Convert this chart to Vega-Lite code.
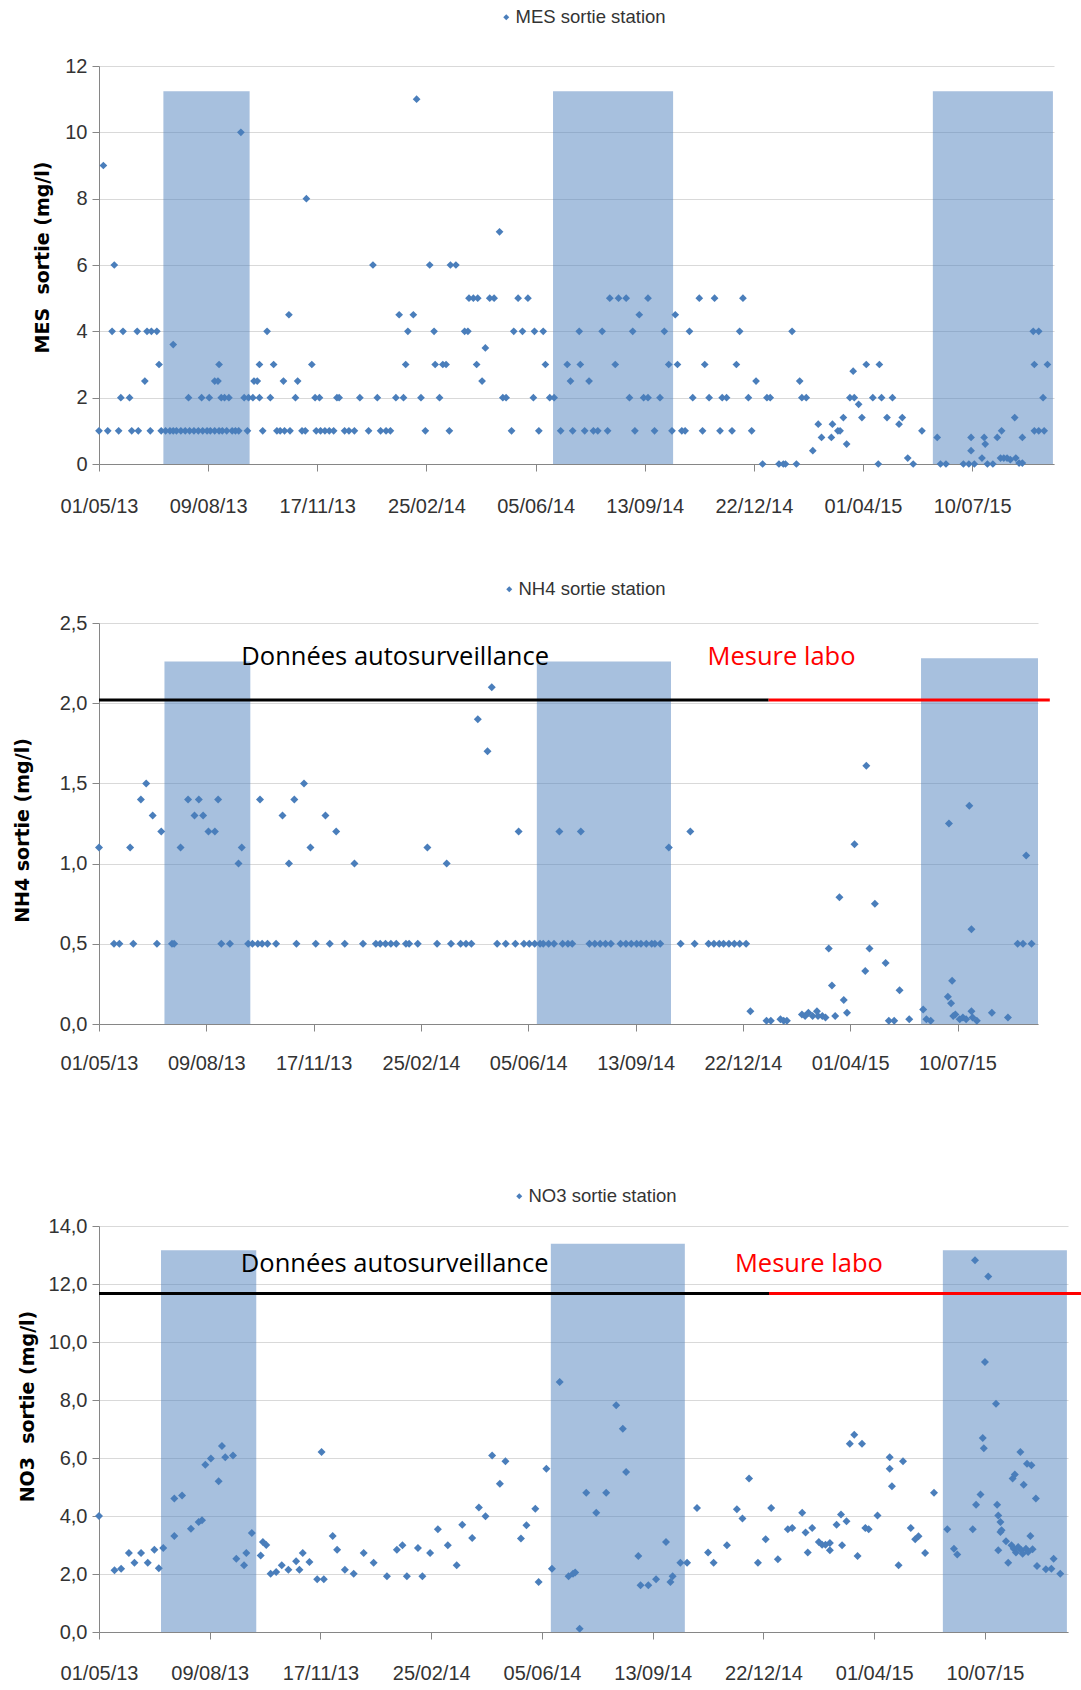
{
  "$schema": "https://vega.github.io/schema/vega-lite/v6.json",
  "background": "white",
  "padding": {"left": 13, "top": 8, "right": 0, "bottom": 0},
  "datasets": {
    "zones_mes": [{"debut":59,"fin":138,"haut":11.24},{"debut":416,"fin":526,"haut":11.24},{"debut":764,"fin":874,"haut":11.24}],
    "zones_nh4": [{"debut":61,"fin":141,"haut":2.26},{"debut":408,"fin":533,"haut":2.26},{"debut":766,"fin":875,"haut":2.28}],
    "zones_no3": [{"debut":56,"fin":142,"haut":13.16},{"debut":408,"fin":529,"haut":13.39},{"debut":762,"fin":874,"haut":13.16}],
    "annot_nh4": [
      {"source":"auto","debut":0,"fin":624,"niveau":2.02,"libelle":"Données autosurveillance","x_texte":276,"y_texte":2.29},
      {"source":"labo","debut":624,"fin":886,"niveau":2.02,"libelle":"Mesure labo","x_texte":636,"y_texte":2.29}
    ],
    "annot_no3": [
      {"source":"auto","debut":0,"fin":605,"niveau":11.67,"libelle":"Données autosurveillance","x_texte":267,"y_texte":12.7},
      {"source":"labo","debut":605,"fin":890,"niveau":11.67,"libelle":"Mesure labo","x_texte":641,"y_texte":12.7}
    ],
    "mes": [
      {"jour":4,"valeur":9},{"jour":14,"valeur":6},{"jour":130,"valeur":10},{"jour":190,"valeur":8},{"jour":251,"valeur":6},{"jour":291,"valeur":11},{"jour":303,"valeur":6},{"jour":322,"valeur":6},{"jour":327,"valeur":6},{"jour":367,"valeur":7},
      {"jour":339,"valeur":5},{"jour":343,"valeur":5},{"jour":347,"valeur":5},{"jour":358,"valeur":5},{"jour":362,"valeur":5},{"jour":384,"valeur":5},{"jour":393,"valeur":5},{"jour":468,"valeur":5},{"jour":476,"valeur":5},{"jour":483,"valeur":5},{"jour":503,"valeur":5},{"jour":550,"valeur":5},{"jour":564,"valeur":5},{"jour":590,"valeur":5},
      {"jour":174,"valeur":4.5},{"jour":275,"valeur":4.5},{"jour":288,"valeur":4.5},{"jour":495,"valeur":4.5},{"jour":528,"valeur":4.5},
      {"jour":12,"valeur":4},{"jour":22,"valeur":4},{"jour":35,"valeur":4},{"jour":44,"valeur":4},{"jour":48,"valeur":4},{"jour":53,"valeur":4},{"jour":154,"valeur":4},{"jour":283,"valeur":4},{"jour":307,"valeur":4},{"jour":335,"valeur":4},{"jour":338,"valeur":4},{"jour":380,"valeur":4},{"jour":388,"valeur":4},{"jour":399,"valeur":4},{"jour":407,"valeur":4},{"jour":440,"valeur":4},{"jour":461,"valeur":4},{"jour":489,"valeur":4},{"jour":518,"valeur":4},{"jour":541,"valeur":4},{"jour":587,"valeur":4},{"jour":635,"valeur":4},{"jour":856,"valeur":4},{"jour":861,"valeur":4},
      {"jour":68,"valeur":3.6},{"jour":354,"valeur":3.5},
      {"jour":55,"valeur":3},{"jour":110,"valeur":3},{"jour":147,"valeur":3},{"jour":160,"valeur":3},{"jour":195,"valeur":3},{"jour":281,"valeur":3},{"jour":308,"valeur":3},{"jour":315,"valeur":3},{"jour":318,"valeur":3},{"jour":346,"valeur":3},{"jour":409,"valeur":3},{"jour":429,"valeur":3},{"jour":441,"valeur":3},{"jour":473,"valeur":3},{"jour":522,"valeur":3},{"jour":530,"valeur":3},{"jour":555,"valeur":3},{"jour":584,"valeur":3},{"jour":703,"valeur":3},{"jour":715,"valeur":3},{"jour":857,"valeur":3},{"jour":869,"valeur":3},
      {"jour":691,"valeur":2.8},
      {"jour":42,"valeur":2.5},{"jour":106,"valeur":2.5},{"jour":109,"valeur":2.5},{"jour":142,"valeur":2.5},{"jour":145,"valeur":2.5},{"jour":169,"valeur":2.5},{"jour":182,"valeur":2.5},{"jour":351,"valeur":2.5},{"jour":432,"valeur":2.5},{"jour":449,"valeur":2.5},{"jour":602,"valeur":2.5},{"jour":642,"valeur":2.5},
      {"jour":20,"valeur":2},{"jour":28,"valeur":2},{"jour":82,"valeur":2},{"jour":94,"valeur":2},{"jour":101,"valeur":2},{"jour":112,"valeur":2},{"jour":115,"valeur":2},{"jour":119,"valeur":2},{"jour":133,"valeur":2},{"jour":137,"valeur":2},{"jour":141,"valeur":2},{"jour":147,"valeur":2},{"jour":157,"valeur":2},{"jour":180,"valeur":2},{"jour":198,"valeur":2},{"jour":202,"valeur":2},{"jour":218,"valeur":2},{"jour":220,"valeur":2},{"jour":239,"valeur":2},{"jour":255,"valeur":2},{"jour":272,"valeur":2},{"jour":279,"valeur":2},{"jour":295,"valeur":2},{"jour":312,"valeur":2},{"jour":370,"valeur":2},{"jour":373,"valeur":2},{"jour":398,"valeur":2},{"jour":413,"valeur":2},{"jour":417,"valeur":2},{"jour":486,"valeur":2},{"jour":499,"valeur":2},{"jour":503,"valeur":2},{"jour":514,"valeur":2},{"jour":544,"valeur":2},{"jour":559,"valeur":2},{"jour":571,"valeur":2},{"jour":575,"valeur":2},{"jour":595,"valeur":2},{"jour":612,"valeur":2},{"jour":615,"valeur":2},{"jour":644,"valeur":2},{"jour":648,"valeur":2},{"jour":688,"valeur":2},{"jour":692,"valeur":2},{"jour":709,"valeur":2},{"jour":717,"valeur":2},{"jour":727,"valeur":2},{"jour":865,"valeur":2},
      {"jour":696,"valeur":1.8},
      {"jour":682,"valeur":1.4},{"jour":699,"valeur":1.4},{"jour":722,"valeur":1.4},{"jour":736,"valeur":1.4},{"jour":839,"valeur":1.4},
      {"jour":659,"valeur":1.2},{"jour":672,"valeur":1.2},{"jour":733,"valeur":1.2},
      {"jour":0,"valeur":1},{"jour":8,"valeur":1},{"jour":18,"valeur":1},{"jour":30,"valeur":1},{"jour":36,"valeur":1},{"jour":47,"valeur":1},{"jour":57,"valeur":1},{"jour":61,"valeur":1},{"jour":65,"valeur":1},{"jour":68,"valeur":1},{"jour":71,"valeur":1},{"jour":75,"valeur":1},{"jour":79,"valeur":1},{"jour":83,"valeur":1},{"jour":87,"valeur":1},{"jour":91,"valeur":1},{"jour":95,"valeur":1},{"jour":99,"valeur":1},{"jour":102,"valeur":1},{"jour":106,"valeur":1},{"jour":110,"valeur":1},{"jour":113,"valeur":1},{"jour":117,"valeur":1},{"jour":122,"valeur":1},{"jour":125,"valeur":1},{"jour":128,"valeur":1},{"jour":136,"valeur":1},{"jour":150,"valeur":1},{"jour":163,"valeur":1},{"jour":166,"valeur":1},{"jour":170,"valeur":1},{"jour":175,"valeur":1},{"jour":186,"valeur":1},{"jour":189,"valeur":1},{"jour":199,"valeur":1},{"jour":203,"valeur":1},{"jour":207,"valeur":1},{"jour":211,"valeur":1},{"jour":215,"valeur":1},{"jour":225,"valeur":1},{"jour":229,"valeur":1},{"jour":234,"valeur":1},{"jour":247,"valeur":1},{"jour":258,"valeur":1},{"jour":263,"valeur":1},{"jour":267,"valeur":1},{"jour":299,"valeur":1},{"jour":321,"valeur":1},{"jour":378,"valeur":1},{"jour":403,"valeur":1},{"jour":423,"valeur":1},{"jour":434,"valeur":1},{"jour":445,"valeur":1},{"jour":453,"valeur":1},{"jour":457,"valeur":1},{"jour":466,"valeur":1},{"jour":491,"valeur":1},{"jour":509,"valeur":1},{"jour":525,"valeur":1},{"jour":534,"valeur":1},{"jour":537,"valeur":1},{"jour":553,"valeur":1},{"jour":569,"valeur":1},{"jour":580,"valeur":1},{"jour":598,"valeur":1},{"jour":677,"valeur":1},{"jour":679,"valeur":1},{"jour":754,"valeur":1},{"jour":827,"valeur":1},{"jour":857,"valeur":1},{"jour":861,"valeur":1},{"jour":866,"valeur":1},
      {"jour":662,"valeur":0.8},{"jour":671,"valeur":0.8},{"jour":768,"valeur":0.8},{"jour":799,"valeur":0.8},{"jour":811,"valeur":0.8},{"jour":823,"valeur":0.8},{"jour":846,"valeur":0.8},
      {"jour":685,"valeur":0.6},{"jour":812,"valeur":0.6},{"jour":654,"valeur":0.4},{"jour":799,"valeur":0.4},
      {"jour":741,"valeur":0.18},{"jour":809,"valeur":0.18},{"jour":826,"valeur":0.18},{"jour":829,"valeur":0.18},{"jour":832,"valeur":0.18},{"jour":835,"valeur":0.13},{"jour":840,"valeur":0.18},
      {"jour":608,"valeur":0},{"jour":623,"valeur":0},{"jour":627,"valeur":0},{"jour":629,"valeur":0},{"jour":639,"valeur":0},{"jour":714,"valeur":0},{"jour":746,"valeur":0},{"jour":771,"valeur":0},{"jour":776,"valeur":0},{"jour":792,"valeur":0},{"jour":797,"valeur":0},{"jour":802,"valeur":0},{"jour":814,"valeur":0},{"jour":819,"valeur":0},{"jour":843,"valeur":0.03},{"jour":846,"valeur":0.03}
    ],
    "nh4": [
      {"jour":0,"valeur":1.1},{"jour":29,"valeur":1.1},{"jour":76,"valeur":1.1},{"jour":133,"valeur":1.1},{"jour":197,"valeur":1.1},{"jour":306,"valeur":1.1},{"jour":531,"valeur":1.1},
      {"jour":39,"valeur":1.4},{"jour":83,"valeur":1.4},{"jour":93,"valeur":1.4},{"jour":111,"valeur":1.4},{"jour":150,"valeur":1.4},{"jour":182,"valeur":1.4},
      {"jour":44,"valeur":1.5},{"jour":191,"valeur":1.5},
      {"jour":50,"valeur":1.3},{"jour":89,"valeur":1.3},{"jour":97,"valeur":1.3},{"jour":171,"valeur":1.3},{"jour":211,"valeur":1.3},
      {"jour":58,"valeur":1.2},{"jour":102,"valeur":1.2},{"jour":108,"valeur":1.2},{"jour":221,"valeur":1.2},{"jour":391,"valeur":1.2},{"jour":429,"valeur":1.2},{"jour":449,"valeur":1.2},{"jour":551,"valeur":1.2},
      {"jour":130,"valeur":1.0},{"jour":177,"valeur":1.0},{"jour":238,"valeur":1.0},{"jour":324,"valeur":1.0},
      {"jour":353,"valeur":1.9},{"jour":362,"valeur":1.7},{"jour":366,"valeur":2.1},
      {"jour":14,"valeur":0.5},{"jour":19,"valeur":0.5},{"jour":32,"valeur":0.5},{"jour":54,"valeur":0.5},{"jour":68,"valeur":0.5},{"jour":70,"valeur":0.5},{"jour":114,"valeur":0.5},{"jour":122,"valeur":0.5},{"jour":139,"valeur":0.5},{"jour":143,"valeur":0.5},{"jour":148,"valeur":0.5},{"jour":152,"valeur":0.5},{"jour":157,"valeur":0.5},{"jour":165,"valeur":0.5},{"jour":184,"valeur":0.5},{"jour":202,"valeur":0.5},{"jour":215,"valeur":0.5},{"jour":229,"valeur":0.5},{"jour":246,"valeur":0.5},{"jour":258,"valeur":0.5},{"jour":262,"valeur":0.5},{"jour":267,"valeur":0.5},{"jour":272,"valeur":0.5},{"jour":277,"valeur":0.5},{"jour":286,"valeur":0.5},{"jour":289,"valeur":0.5},{"jour":297,"valeur":0.5},{"jour":315,"valeur":0.5},{"jour":328,"valeur":0.5},{"jour":337,"valeur":0.5},{"jour":342,"valeur":0.5},{"jour":347,"valeur":0.5},{"jour":371,"valeur":0.5},{"jour":379,"valeur":0.5},{"jour":388,"valeur":0.5},{"jour":396,"valeur":0.5},{"jour":401,"valeur":0.5},{"jour":406,"valeur":0.5},{"jour":411,"valeur":0.5},{"jour":414,"valeur":0.5},{"jour":419,"valeur":0.5},{"jour":424,"valeur":0.5},{"jour":432,"valeur":0.5},{"jour":437,"valeur":0.5},{"jour":441,"valeur":0.5},{"jour":457,"valeur":0.5},{"jour":462,"valeur":0.5},{"jour":467,"valeur":0.5},{"jour":472,"valeur":0.5},{"jour":477,"valeur":0.5},{"jour":486,"valeur":0.5},{"jour":491,"valeur":0.5},{"jour":496,"valeur":0.5},{"jour":501,"valeur":0.5},{"jour":505,"valeur":0.5},{"jour":510,"valeur":0.5},{"jour":515,"valeur":0.5},{"jour":518,"valeur":0.5},{"jour":523,"valeur":0.5},{"jour":542,"valeur":0.5},{"jour":555,"valeur":0.5},{"jour":568,"valeur":0.5},{"jour":573,"valeur":0.5},{"jour":578,"valeur":0.5},{"jour":582,"valeur":0.5},{"jour":587,"valeur":0.5},{"jour":592,"valeur":0.5},{"jour":597,"valeur":0.5},{"jour":603,"valeur":0.5},{"jour":856,"valeur":0.5},{"jour":861,"valeur":0.5},{"jour":869,"valeur":0.5},
      {"jour":607,"valeur":0.08},{"jour":622,"valeur":0.02},{"jour":626,"valeur":0.02},{"jour":635,"valeur":0.03},{"jour":638,"valeur":0.02},{"jour":641,"valeur":0.02},{"jour":655,"valeur":0.06},{"jour":658,"valeur":0.05},{"jour":661,"valeur":0.07},{"jour":665,"valeur":0.05},{"jour":669,"valeur":0.08},{"jour":670,"valeur":0.05},{"jour":674,"valeur":0.05},{"jour":677,"valeur":0.04},{"jour":680,"valeur":0.47},{"jour":683,"valeur":0.24},{"jour":686,"valeur":0.05},{"jour":690,"valeur":0.79},{"jour":694,"valeur":0.15},{"jour":697,"valeur":0.07},{"jour":704,"valeur":1.12},{"jour":714,"valeur":0.33},{"jour":715,"valeur":1.61},{"jour":718,"valeur":0.47},{"jour":723,"valeur":0.75},{"jour":733,"valeur":0.38},{"jour":736,"valeur":0.02},{"jour":741,"valeur":0.02},{"jour":746,"valeur":0.21},{"jour":755,"valeur":0.03},{"jour":768,"valeur":0.09},{"jour":771,"valeur":0.03},{"jour":775,"valeur":0.02},{"jour":791,"valeur":0.17},{"jour":792,"valeur":1.25},{"jour":794,"valeur":0.13},{"jour":795,"valeur":0.27},{"jour":796,"valeur":0.05},{"jour":798,"valeur":0.06},{"jour":802,"valeur":0.03},{"jour":805,"valeur":0.04},{"jour":808,"valeur":0.03},{"jour":811,"valeur":1.36},{"jour":813,"valeur":0.59},{"jour":813,"valeur":0.08},{"jour":814,"valeur":0.04},{"jour":818,"valeur":0.02},{"jour":832,"valeur":0.07},{"jour":847,"valeur":0.04},{"jour":864,"valeur":1.05}
    ],
    "no3": [
      {"jour":0,"valeur":4.0},{"jour":14,"valeur":2.13},{"jour":20,"valeur":2.18},{"jour":27,"valeur":2.72},{"jour":32,"valeur":2.39},{"jour":38,"valeur":2.72},{"jour":44,"valeur":2.39},{"jour":50,"valeur":2.84},{"jour":54,"valeur":2.2},{"jour":58,"valeur":2.9},{"jour":68,"valeur":3.31},{"jour":68,"valeur":4.6},{"jour":75,"valeur":4.71},{"jour":83,"valeur":3.56},{"jour":90,"valeur":3.79},{"jour":93,"valeur":3.85},{"jour":96,"valeur":5.77},{"jour":101,"valeur":5.98},{"jour":108,"valeur":5.2},{"jour":111,"valeur":6.41},{"jour":114,"valeur":6.03},{"jour":121,"valeur":6.09},{"jour":124,"valeur":2.53},{"jour":131,"valeur":2.3},{"jour":133,"valeur":2.72},{"jour":138,"valeur":3.41},{"jour":146,"valeur":2.64},{"jour":148,"valeur":3.1},{"jour":151,"valeur":3.0},{"jour":155,"valeur":2.01},{"jour":160,"valeur":2.07},{"jour":165,"valeur":2.3},{"jour":171,"valeur":2.15},{"jour":178,"valeur":2.44},{"jour":181,"valeur":2.15},{"jour":184,"valeur":2.72},{"jour":190,"valeur":2.41},{"jour":197,"valeur":1.82},{"jour":203,"valeur":1.82},{"jour":201,"valeur":6.21},{"jour":211,"valeur":3.31},{"jour":215,"valeur":2.84},{"jour":222,"valeur":2.15},{"jour":230,"valeur":2.01},{"jour":239,"valeur":2.72},{"jour":248,"valeur":2.39},{"jour":260,"valeur":1.92},{"jour":269,"valeur":2.84},{"jour":274,"valeur":2.99},{"jour":278,"valeur":1.92},{"jour":288,"valeur":2.9},{"jour":292,"valeur":1.92},{"jour":299,"valeur":2.72},{"jour":306,"valeur":3.54},{"jour":315,"valeur":2.99},{"jour":323,"valeur":2.3},{"jour":328,"valeur":3.7},{"jour":337,"valeur":3.24},{"jour":343,"valeur":4.29},{"jour":349,"valeur":3.99},{"jour":355,"valeur":6.09},{"jour":362,"valeur":5.11},{"jour":367,"valeur":5.89},{"jour":381,"valeur":3.22},{"jour":386,"valeur":3.68},{"jour":394,"valeur":4.25},{"jour":397,"valeur":1.72},
      {"jour":404,"valeur":5.63},{"jour":409,"valeur":2.18},{"jour":416,"valeur":8.62},{"jour":424,"valeur":1.92},{"jour":428,"valeur":2.01},{"jour":430,"valeur":2.05},{"jour":434,"valeur":0.11},{"jour":440,"valeur":4.8},{"jour":449,"valeur":4.11},{"jour":458,"valeur":4.8},{"jour":467,"valeur":7.82},{"jour":473,"valeur":7.01},{"jour":476,"valeur":5.52},{"jour":487,"valeur":2.62},{"jour":489,"valeur":1.61},{"jour":496,"valeur":1.61},{"jour":503,"valeur":1.82},{"jour":512,"valeur":3.1},{"jour":516,"valeur":1.72},{"jour":518,"valeur":1.92},{"jour":525,"valeur":2.39},{"jour":531,"valeur":2.39},{"jour":540,"valeur":4.28},{"jour":550,"valeur":2.74},{"jour":555,"valeur":2.39},{"jour":567,"valeur":2.99},{"jour":576,"valeur":4.23},{"jour":581,"valeur":3.91},{"jour":587,"valeur":5.29},{"jour":595,"valeur":2.39},{"jour":602,"valeur":3.2},{"jour":607,"valeur":4.28},{"jour":613,"valeur":2.51},{"jour":622,"valeur":3.54},{"jour":626,"valeur":3.59},{"jour":635,"valeur":4.11},{"jour":638,"valeur":3.43},{"jour":640,"valeur":2.74},{"jour":644,"valeur":3.59},{"jour":650,"valeur":3.1},{"jour":653,"valeur":3.01},{"jour":656,"valeur":3.01},{"jour":660,"valeur":3.07},{"jour":660,"valeur":2.82},{"jour":666,"valeur":3.7},{"jour":670,"valeur":4.05},{"jour":671,"valeur":2.99},{"jour":675,"valeur":3.82},{"jour":678,"valeur":6.49},{"jour":682,"valeur":6.8},{"jour":685,"valeur":2.62},{"jour":689,"valeur":6.49},{"jour":692,"valeur":3.59},{"jour":695,"valeur":3.54},{"jour":703,"valeur":4.02},{"jour":714,"valeur":6.03},{"jour":714,"valeur":5.63},{"jour":716,"valeur":5.03},{"jour":722,"valeur":2.3},{"jour":726,"valeur":5.89},{"jour":733,"valeur":3.59},{"jour":737,"valeur":3.2},{"jour":740,"valeur":3.3},{"jour":746,"valeur":2.72},{"jour":754,"valeur":4.8},{"jour":766,"valeur":3.54},{"jour":772,"valeur":2.87},{"jour":775,"valeur":2.67},{"jour":789,"valeur":3.54},{"jour":791,"valeur":12.82},{"jour":792,"valeur":4.39},{"jour":796,"valeur":4.74},{"jour":798,"valeur":6.69},{"jour":799,"valeur":6.34},{"jour":800,"valeur":9.31},{"jour":803,"valeur":12.26},{"jour":810,"valeur":7.87},{"jour":811,"valeur":4.39},{"jour":812,"valeur":2.82},{"jour":812,"valeur":4.02},{"jour":814,"valeur":3.79},{"jour":815,"valeur":3.51},{"jour":814,"valeur":3.45},{"jour":819,"valeur":3.13},{"jour":821,"valeur":2.39},{"jour":824,"valeur":2.99},{"jour":826,"valeur":2.87},{"jour":828,"valeur":2.74},{"jour":830,"valeur":2.93},{"jour":833,"valeur":2.82},{"jour":834,"valeur":2.7},{"jour":837,"valeur":2.87},{"jour":839,"valeur":2.76},{"jour":841,"valeur":3.31},{"jour":843,"valeur":2.85},{"jour":825,"valeur":5.29},{"jour":827,"valeur":5.43},{"jour":832,"valeur":6.21},{"jour":835,"valeur":5.08},{"jour":838,"valeur":5.8},{"jour":842,"valeur":5.75},{"jour":846,"valeur":4.6},{"jour":847,"valeur":2.28},{"jour":855,"valeur":2.16},{"jour":860,"valeur":2.18},{"jour":862,"valeur":2.53},{"jour":868,"valeur":2.01}
    ]
  },
  "config": {
    "view": {"stroke": null},
    "axis": {
      "domainColor": "#868686",
      "tickColor": "#868686",
      "gridColor": "#d9d9d9",
      "labelColor": "#333333",
      "labelFont": "Liberation Sans",
      "tickSize": 7
    },
    "axisX": {"grid": false, "labelPadding": 21, "labelFontSize": 20, "labelFlush": false, "labelOverlap": false, "labelAngle": 0},
    "axisY": {"grid": true, "labelPadding": 5, "labelFontSize": 20, "titleFont": "DejaVu Sans", "titleFontWeight": "bold", "titleFontSize": 19, "titleColor": "#000000", "titleBaseline": "middle"},
    "legend": {
      "labelFont": "Liberation Sans",
      "labelFontSize": 18.5,
      "labelColor": "#333333",
      "labelLimit": 0,
      "symbolType": "diamond",
      "symbolSize": 36,
      "labelOffset": 0,
      "padding": 0
    }
  },
  "spacing": 64,
  "resolve": {"scale": {"color": "independent", "x": "independent", "y": "independent"}, "legend": {"color": "independent"}},
  "vconcat": [
    {
      "width": 955,
      "height": 398,
      "layer": [
        {
          "data": {"name": "zones_mes"},
          "mark": {"type": "rect", "fill": "#4f81bd", "fillOpacity": 0.5},
          "encoding": {
            "x": {"field": "debut", "type": "quantitative", "title": null, "scale": {"domain": [0, 875], "nice": false, "zero": false},
                  "axis": {"values": [0,100,200,300,400,500,600,700,800], "labelExpr": "timeFormat(datetime(2013, 4, 1 + datum.value), '%d/%m/%y')", "labelPadding": 25}},
            "x2": {"field": "fin"},
            "y": {"field": "haut", "type": "quantitative", "title": "MES\u00a0 sortie (mg/l)", "scale": {"domain": [0, 12], "nice": false},
                  "axis": {"values": [0,2,4,6,8,10,12], "format": "d", "titleX": -57, "titleY": 191}},
            "y2": {"datum": 0}
          }
        },
        {
          "data": {"name": "mes"},
          "mark": {"type": "point", "shape": "diamond", "filled": true, "size": 60, "opacity": 1},
          "encoding": {
            "x": {"field": "jour", "type": "quantitative", "title": null},
            "y": {"field": "valeur", "type": "quantitative", "title": "MES\u00a0 sortie (mg/l)"},
            "color": {"datum": "MES sortie station", "type": "nominal", "scale": {"range": ["#4a7ebb"]},
                      "legend": {"title": null, "orient": "none", "legendX": 398, "legendY": -58}}
          }
        }
      ]
    },
    {
      "spacing": 114,
      "resolve": {"scale": {"color": "independent", "x": "independent", "y": "independent"}, "legend": {"color": "independent"}},
      "vconcat": [
        {
          "width": 939,
          "height": 401,
          "layer": [
            {
              "data": {"name": "zones_nh4"},
              "mark": {"type": "rect", "fill": "#4f81bd", "fillOpacity": 0.5},
              "encoding": {
                "x": {"field": "debut", "type": "quantitative", "title": null, "scale": {"domain": [0, 875], "nice": false, "zero": false},
                      "axis": {"values": [0,100,200,300,400,500,600,700,800], "labelExpr": "timeFormat(datetime(2013, 4, 1 + datum.value), '%d/%m/%y')", "labelPadding": 22}},
                "x2": {"field": "fin"},
                "y": {"field": "haut", "type": "quantitative", "title": "NH4 sortie (mg/l)", "scale": {"domain": [0, 2.5], "nice": false},
                      "axis": {"values": [0,0.5,1,1.5,2,2.5], "labelExpr": "replace(format(datum.value, '.1f'), '.', ',')", "titleX": -77, "titleY": 207}},
                "y2": {"datum": 0}
              }
            },
            {
              "data": {"name": "nh4"},
              "mark": {"type": "point", "shape": "diamond", "filled": true, "size": 64, "opacity": 1},
              "encoding": {
                "x": {"field": "jour", "type": "quantitative", "title": null},
                "y": {"field": "valeur", "type": "quantitative", "title": "NH4 sortie (mg/l)"},
                "color": {"datum": "NH4 sortie station", "type": "nominal", "scale": {"range": ["#4a7ebb"]},
                          "legend": {"title": null, "orient": "none", "legendX": 401, "legendY": -43}}
              }
            },
            {
              "data": {"name": "annot_nh4"},
              "transform": [{"filter": "datum.source === 'auto'"}],
              "layer": [
                {"mark": {"type": "rule", "color": "#000000", "strokeWidth": 3},
                 "encoding": {"x": {"field": "debut", "type": "quantitative", "title": null}, "x2": {"field": "fin"}, "y": {"field": "niveau", "type": "quantitative", "title": "NH4 sortie (mg/l)"}}},
                {"mark": {"type": "text", "color": "#000000", "font": "Open Sans", "fontSize": 25.5, "align": "center", "baseline": "middle"},
                 "encoding": {"x": {"field": "x_texte", "type": "quantitative", "title": null}, "y": {"field": "y_texte", "type": "quantitative", "title": "NH4 sortie (mg/l)"}, "text": {"field": "libelle"}}}
              ]
            },
            {
              "data": {"name": "annot_nh4"},
              "transform": [{"filter": "datum.source === 'labo'"}],
              "layer": [
                {"mark": {"type": "rule", "color": "#ff0000", "strokeWidth": 3},
                 "encoding": {"x": {"field": "debut", "type": "quantitative", "title": null}, "x2": {"field": "fin"}, "y": {"field": "niveau", "type": "quantitative", "title": "NH4 sortie (mg/l)"}}},
                {"mark": {"type": "text", "color": "#ff0000", "font": "Open Sans", "fontSize": 25.5, "align": "center", "baseline": "middle"},
                 "encoding": {"x": {"field": "x_texte", "type": "quantitative", "title": null}, "y": {"field": "y_texte", "type": "quantitative", "title": "NH4 sortie (mg/l)"}, "text": {"field": "libelle"}}}
              ]
            }
          ]
        },
        {
          "width": 969,
          "height": 406,
          "layer": [
            {
              "data": {"name": "zones_no3"},
              "mark": {"type": "rect", "fill": "#4f81bd", "fillOpacity": 0.5},
              "encoding": {
                "x": {"field": "debut", "type": "quantitative", "title": null, "scale": {"domain": [0, 875], "nice": false, "zero": false},
                      "axis": {"values": [0,100,200,300,400,500,600,700,800], "labelExpr": "timeFormat(datetime(2013, 4, 1 + datum.value), '%d/%m/%y')", "labelPadding": 24}},
                "x2": {"field": "fin"},
                "y": {"field": "haut", "type": "quantitative", "title": "NO3\u00a0 sortie (mg/l)", "scale": {"domain": [0, 14], "nice": false},
                      "axis": {"values": [0,2,4,6,8,10,12,14], "labelExpr": "replace(format(datum.value, '.1f'), '.', ',')", "titleX": -72, "titleY": 180}},
                "y2": {"datum": 0}
              }
            },
            {
              "data": {"name": "no3"},
              "mark": {"type": "point", "shape": "diamond", "filled": true, "size": 64, "opacity": 1},
              "encoding": {
                "x": {"field": "jour", "type": "quantitative", "title": null},
                "y": {"field": "valeur", "type": "quantitative", "title": "NO3\u00a0 sortie (mg/l)"},
                "color": {"datum": "NO3 sortie station", "type": "nominal", "scale": {"range": ["#4a7ebb"]},
                          "legend": {"title": null, "orient": "none", "legendX": 411, "legendY": -39}}
              }
            },
            {
              "data": {"name": "annot_no3"},
              "transform": [{"filter": "datum.source === 'auto'"}],
              "layer": [
                {"mark": {"type": "rule", "color": "#000000", "strokeWidth": 3},
                 "encoding": {"x": {"field": "debut", "type": "quantitative", "title": null}, "x2": {"field": "fin"}, "y": {"field": "niveau", "type": "quantitative", "title": "NO3\u00a0 sortie (mg/l)"}}},
                {"mark": {"type": "text", "color": "#000000", "font": "Open Sans", "fontSize": 25.5, "align": "center", "baseline": "middle"},
                 "encoding": {"x": {"field": "x_texte", "type": "quantitative", "title": null}, "y": {"field": "y_texte", "type": "quantitative", "title": "NO3\u00a0 sortie (mg/l)"}, "text": {"field": "libelle"}}}
              ]
            },
            {
              "data": {"name": "annot_no3"},
              "transform": [{"filter": "datum.source === 'labo'"}],
              "layer": [
                {"mark": {"type": "rule", "color": "#ff0000", "strokeWidth": 3},
                 "encoding": {"x": {"field": "debut", "type": "quantitative", "title": null}, "x2": {"field": "fin"}, "y": {"field": "niveau", "type": "quantitative", "title": "NO3\u00a0 sortie (mg/l)"}}},
                {"mark": {"type": "text", "color": "#ff0000", "font": "Open Sans", "fontSize": 25.5, "align": "center", "baseline": "middle"},
                 "encoding": {"x": {"field": "x_texte", "type": "quantitative", "title": null}, "y": {"field": "y_texte", "type": "quantitative", "title": "NO3\u00a0 sortie (mg/l)"}, "text": {"field": "libelle"}}}
              ]
            }
          ]
        }
      ]
    }
  ]
}
